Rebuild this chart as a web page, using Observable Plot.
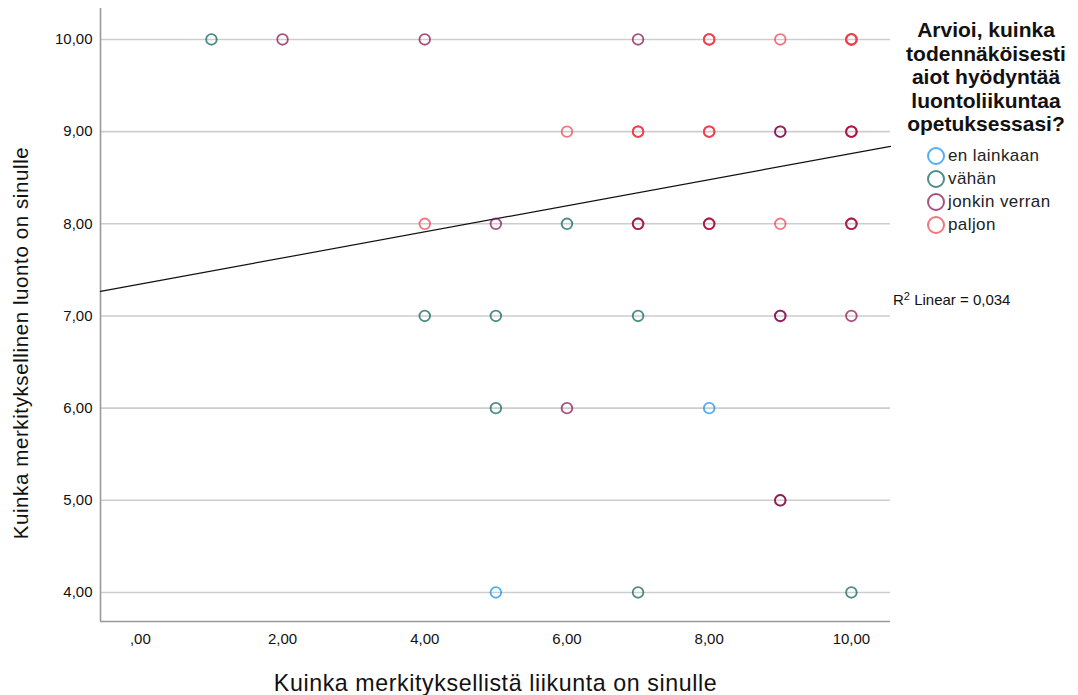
<!DOCTYPE html>
<html>
<head>
<meta charset="utf-8">
<script src="https://cdn.jsdelivr.net/npm/d3@7"></script>
<script src="https://cdn.jsdelivr.net/npm/@observablehq/plot@0.6"></script>
<style>
  html, body { margin: 0; padding: 0; background: #fff; }
  #wrap { position: relative; width: 1078px; height: 695px; font-family: "Liberation Sans", Arial, sans-serif; }
  #legend { position: absolute; left: 900px; top: 18px; width: 172px; }
  #legend .title { font-weight: bold; font-size: 21px; line-height: 23.6px; text-align: center; color: #111; }
  #legend .item { display: flex; align-items: center; height: 23px; margin-left: 26px; font-size: 17px; letter-spacing: 0.4px; color: #222; }
  #legend .item svg { margin-right: 2px; }
  #r2 { position: absolute; left: 893px; top: 290px; font-size: 15px; color: #111; }
  .axis-title { letter-spacing: 0.6px; }
</style>
</head>
<body>
<div id="wrap"></div>
<script>
// ---- data ----
const categories = ["en lainkaan", "vähän", "jonkin verran", "paljon"];
const categoryColors = ["#0a8cf0", "#005c52", "#84084a", "#f03a48"];
const legendTitleLines = ["Arvioi, kuinka", "todennäköisesti", "aiot hyödyntää", "luontoliikuntaa", "opetuksessasi?"];

// one entry per drawn marker (repeated entries = overlapping respondents)
const xValues = [1, 2, 4, 7, 8, 8, 8, 9, 10, 10, 10, 10,
                 6, 7, 7, 7, 8, 8, 8, 9, 9, 10, 10, 10, 10,
                 4, 5, 6, 7, 7, 7, 8, 8, 8, 9, 10, 10, 10,
                 4, 5, 7, 9, 9, 10,
                 5, 6, 8,
                 9, 9,
                 5, 7, 10];
const yValues = [10, 10, 10, 10, 10, 10, 10, 10, 10, 10, 10, 10,
                 9, 9, 9, 9, 9, 9, 9, 9, 9, 9, 9, 9, 9,
                 8, 8, 8, 8, 8, 8, 8, 8, 8, 8, 8, 8, 8,
                 7, 7, 7, 7, 7, 7,
                 6, 6, 6,
                 5, 5,
                 4, 4, 4];
const groupValues = ["vähän", "jonkin verran", "jonkin verran", "jonkin verran", "paljon", "paljon", "paljon", "paljon", "paljon", "paljon", "paljon", "paljon",
                     "paljon", "paljon", "paljon", "paljon", "paljon", "paljon", "paljon", "jonkin verran", "jonkin verran", "paljon", "paljon", "paljon", "jonkin verran",
                     "paljon", "jonkin verran", "vähän", "paljon", "paljon", "jonkin verran", "paljon", "paljon", "jonkin verran", "paljon", "paljon", "paljon", "jonkin verran",
                     "vähän", "vähän", "vähän", "jonkin verran", "jonkin verran", "jonkin verran",
                     "vähän", "jonkin verran", "en lainkaan",
                     "jonkin verran", "jonkin verran",
                     "en lainkaan", "vähän", "vähän"];

const xTicks = [0, 2, 4, 6, 8, 10];
const yTicks = [4, 5, 6, 7, 8, 9, 10];
const xDomain = [-0.56, 10.55];
const yDomain = [3.685, 10.336];
const fitIntercept = 7.346;
const fitSlope = 0.1416;
const rSquaredText = "0,034";
const xTitle = "Kuinka merkityksellistä liikunta on sinulle";
const yTitle = "Kuinka merkityksellinen luonto on sinulle";

// ---- build ----
const points = xValues.map((x, i) => ({x, y: yValues[i], group: groupValues[i]}));
const fitLine = xDomain.map(x => ({x, y: fitIntercept + fitSlope * x}));
const fmt = v => (v === 0 ? "" : String(v)) + ",00";
const dotOpacity = 0.7;

const chart = Plot.plot({
  width: 1078,
  height: 695,
  marginLeft: 100,
  marginRight: 188,
  marginTop: 8,
  marginBottom: 74,
  style: {fontFamily: "'Liberation Sans', Arial, sans-serif", background: "#fff", color: "#111"},
  x: {domain: xDomain},
  y: {domain: yDomain},
  color: {domain: categories, range: categoryColors},
  marks: [
    Plot.ruleY(yTicks, {stroke: "#cdcdcd", strokeWidth: 1.6}),
    Plot.ruleX([xDomain[0]], {stroke: "#999", strokeWidth: 1.6}),
    Plot.ruleY([yDomain[0]], {stroke: "#999", strokeWidth: 1.6}),
    Plot.line(fitLine, {x: "x", y: "y", stroke: "#111", strokeWidth: 1.2}),
    Plot.dot(points, {x: "x", y: "y", stroke: "group", r: 5.3, strokeWidth: 1.8, strokeOpacity: dotOpacity}),
    Plot.axisX(xTicks, {tickSize: 0, tickPadding: 12, tickFormat: fmt, fontSize: 15, label: null}),
    Plot.axisY(yTicks, {tickSize: 0, tickPadding: 8, tickFormat: fmt, fontSize: 15, label: null}),
    Plot.text([xTitle], {frameAnchor: "bottom", lineAnchor: "middle", textAnchor: "middle", dy: 62, fontSize: 23.2, fill: "#111", className: "axis-title"}),
    Plot.text([yTitle], {frameAnchor: "left", lineAnchor: "middle", textAnchor: "middle", dx: -79, dy: 28, rotate: -90, fontSize: 20.5, fill: "#111", className: "axis-title"})
  ]
});

const wrap = document.getElementById("wrap");
wrap.appendChild(chart);

// legend
const legend = document.createElement("div");
legend.id = "legend";
const title = document.createElement("div");
title.className = "title";
title.innerHTML = legendTitleLines.join("<br>");
legend.appendChild(title);
const spacer = document.createElement("div");
spacer.style.height = "9px";
legend.appendChild(spacer);
categories.forEach((c, i) => {
  const item = document.createElement("div");
  item.className = "item";
  item.innerHTML = `<svg width="20" height="20"><circle cx="10" cy="10" r="8" fill="none" stroke="${categoryColors[i]}" stroke-opacity="${dotOpacity}" stroke-width="2"/></svg><span>${c}</span>`;
  legend.appendChild(item);
});
wrap.appendChild(legend);

const r2 = document.createElement("div");
r2.id = "r2";
r2.innerHTML = `R<sup style="font-size:11px;vertical-align:5px">2</sup> Linear = ${rSquaredText}`;
wrap.appendChild(r2);
</script>
</body>
</html>
